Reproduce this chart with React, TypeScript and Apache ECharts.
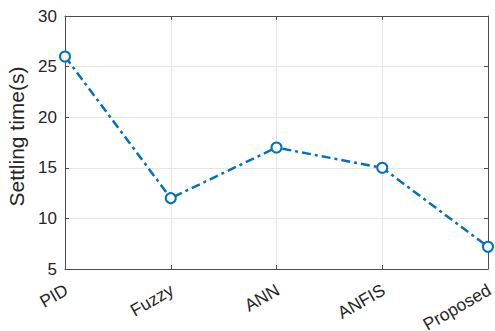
import React, { useEffect, useRef } from "react";
import * as echarts from "echarts";

const methods = ["PID", "Fuzzy", "ANN", "ANFIS", "Proposed"];
const settlingTimes = [26, 12, 17, 15, 7.2];
const yMin = 5;
const yMax = 30;
const yStep = 5;

const axisColor = "#4d4d4d";
const textColor = "#262626";
const font = "Arial, 'Liberation Sans', Helvetica, sans-serif";

export default function App() {
  const ref = useRef<HTMLDivElement>(null);

  useEffect(() => {
    if (!ref.current) return;
    const chart = echarts.init(ref.current, undefined, { renderer: "svg" });
    const boxLine = { show: true, lineStyle: { color: axisColor, width: 1 } };
    const innerTick = { show: true, inside: true, length: 4, lineStyle: { color: axisColor } };
    chart.setOption({
      animation: false,
      backgroundColor: "#ffffff",
      grid: { left: 65, right: 7, top: 16, bottom: 62, outerBoundsMode: "none" },
      xAxis: [
        {
          type: "category",
          data: methods,
          boundaryGap: false,
          axisLine: boxLine,
          axisTick: innerTick,
          splitLine: { show: true, lineStyle: { color: "#e6e6e6" } },
          axisLabel: {
            rotate: 30,
            margin: 11,
            align: "right",
            verticalAlign: "top",
            lineHeight: 16,
            padding: [0, 3, 0, 0],
            color: textColor,
            fontFamily: font,
            fontSize: 17.5,
          },
        },
        {
          type: "category",
          data: methods,
          position: "top",
          boundaryGap: false,
          axisLine: boxLine,
          axisTick: innerTick,
          axisLabel: { show: false },
          splitLine: { show: false },
        },
      ],
      yAxis: [
        {
          type: "value",
          min: yMin,
          max: yMax,
          interval: yStep,
          name: "Settling time(s)",
          nameLocation: "middle",
          nameGap: 32,
          nameTextStyle: {
            color: textColor,
            fontFamily: font,
            fontSize: 21,
            padding: [0, 0, 0, 12],
          },
          axisLine: boxLine,
          axisTick: innerTick,
          splitLine: { show: true, lineStyle: { color: "#e6e6e6" } },
          axisLabel: { color: textColor, fontFamily: font, fontSize: 17, margin: 8 },
        },
        {
          type: "value",
          min: yMin,
          max: yMax,
          interval: yStep,
          position: "right",
          axisLine: boxLine,
          axisTick: innerTick,
          axisLabel: { show: false },
          splitLine: { show: false },
        },
      ],
      series: [
        {
          type: "line",
          data: settlingTimes,
          symbol: "emptyCircle",
          symbolSize: 10,
          itemStyle: { color: "#0072BD", borderWidth: 2 },
          lineStyle: { color: "#0072BD", width: 2.5, type: [9, 4, 3, 4] },
        },
      ],
    });
    return () => chart.dispose();
  }, []);

  return (
    <div
      ref={ref}
      style={{ position: "absolute", left: 0, top: 0, width: 495, height: 331 }}
    />
  );
}
